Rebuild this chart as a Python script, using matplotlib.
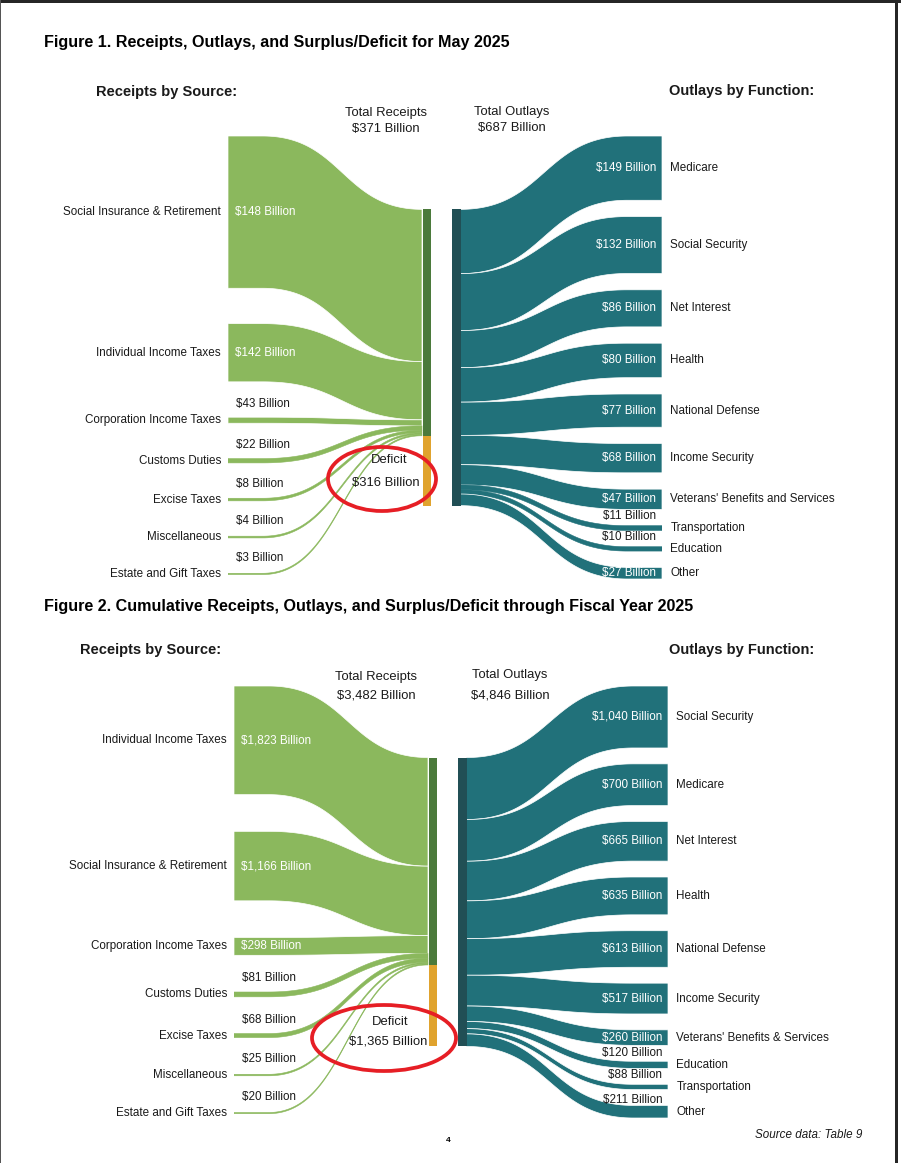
import numpy as np
import matplotlib.pyplot as plt
from matplotlib.patches import Ellipse, Rectangle
from matplotlib.transforms import blended_transform_factory

plt.rcParams['font.family'] = ['Liberation Sans', 'DejaVu Sans']

# ---- Figure 1 data: May 2025 ($ billions)
may_sources = ['Social Insurance & Retirement', 'Individual Income Taxes',
               'Corporation Income Taxes', 'Customs Duties', 'Excise Taxes',
               'Miscellaneous', 'Estate and Gift Taxes']
may_receipts = [148, 142, 43, 22, 8, 4, 3]
# the source graphic draws these bands off the label scale; thickness
may_receipt_band = [353, 135, 14, 10, 6, 4, 3]
may_functions = ['Medicare', 'Social Security', 'Net Interest', 'Health',
                 'National Defense', 'Income Security',
                 "Veterans' Benefits and Services", 'Transportation',
                 'Education', 'Other']
may_outlays = [149, 132, 86, 80, 77, 68, 47, 11, 10, 27]
may_total_receipts = 371
may_total_outlays = 687
may_deficit = 316

# ---- Figure 2 data: fiscal year 2025 to date ($ billions)
fy_sources = ['Individual Income Taxes', 'Social Insurance & Retirement',
              'Corporation Income Taxes', 'Customs Duties', 'Excise Taxes',
              'Miscellaneous', 'Estate and Gift Taxes']
fy_receipts = [1823, 1166, 298, 81, 68, 25, 20]
fy_functions = ['Social Security', 'Medicare', 'Net Interest', 'Health',
                'National Defense', 'Income Security',
                "Veterans' Benefits & Services", 'Education',
                'Transportation', 'Other']
fy_outlays = [1040, 700, 665, 635, 613, 517, 260, 120, 88, 211]
fy_total_receipts = 3482
fy_total_outlays = 4846
fy_deficit = 1365

#colours
green = '#8bb85d'
dark_green = '#4b7a3b'
orange = '#e0a32e'
teal = '#21717a'
dark_teal = '#214f55'
ink = '#1a1a1a'

W, H = 901, 1163
LBL = 8.4

# x layout of the columns inside each sankey axes (axes fraction)
GX0, GX1 = 0.449, 0.467
TX0, TX1 = 0.517, 0.536
NW = 0.08   # width of the end nodes, drawn in the flow colour


def money(v):
    return f"${v:,} Billion"


def flow(ax, x0, x1, a0, b0, a1, b1, color, px, flat_left=0.0, flat_right=0.0):
    # d3 style horizontal link: cubic bezier with control points at mid x
    u = np.linspace(0, 1, 150)
    xa, xb = x0 + flat_left, x1 - flat_right
    xm = (xa + xb) / 2
    xs = xa*(1-u)**3 + 3*xm*(1-u)**2*u + 3*xm*(1-u)*u**2 + xb*u**3
    s = 3*u**2 - 2*u**3
    top = a0 + (a1 - a0)*s
    bot = b0 + (b1 - b0)*s
    xs = np.r_[x0, xs, x1]
    top = np.r_[a0, top, a1]
    bot = np.r_[b0, bot, b1]
    if px > 5:
        ax.fill(np.r_[xs, xs[::-1]], np.r_[top, bot[::-1]], fc=color,
                ec='white', lw=0.5, zorder=2)
    else:
        ax.fill(np.r_[xs, xs[::-1]], np.r_[top, bot[::-1]], fc=color,
                ec=color, lw=0.4, zorder=2)


def sankey(ax, px_h, sources, bands, rec_vals, functions, outlays,
           gap, in_left, in_right, left_fill=0.99):
    total = sum(outlays)
    span = total * (1 + gap*(len(outlays) - 1))
    k = px_h / span  # pixels per $B
    ax.set_xlim(0, 1)
    ax.set_ylim(span, 0)
    ax.axis('off')
    tr = blended_transform_factory(ax.transAxes, ax.transData)

    bar_top = (span - total) / 2
    rec = sum(bands)
    ax.bar((GX0+GX1)/2, rec, GX1-GX0, bottom=bar_top, color=dark_green, zorder=3)
    ax.bar((GX0+GX1)/2, total-rec, GX1-GX0, bottom=bar_top+rec, color=orange, zorder=3)
    ax.bar((TX0+TX1)/2, total, TX1-TX0, bottom=bar_top, color=dark_teal, zorder=3)

    # receipts side
    lgap = (span*left_fill - rec) / (len(bands) - 1)
    y, cy = 0, bar_top
    for name, b, v in zip(sources, bands, rec_vals):
        flow(ax, 0, GX0 - 0.002, y, y+b, cy, cy+b, green, b*k, flat_left=NW)
        c = y + b/2
        ax.annotate(name, (0, c), xycoords=tr, xytext=(-5, 0),
                    textcoords='offset points', ha='right', va='center',
                    fontsize=LBL, color=ink)
        if b*k >= in_left:
            ax.annotate(money(v), (0, c), xycoords=tr, xytext=(5, 0),
                        textcoords='offset points', ha='left', va='center',
                        fontsize=LBL, color='white', zorder=5)
        else:
            ax.annotate(money(v), (0, c), xycoords=tr, xytext=(6, 11.5),
                        textcoords='offset points', ha='left', va='center',
                        fontsize=LBL, color=ink, zorder=5)
        y += b + lgap
        cy += b

    # outlays side
    rgap = gap * total
    y, cy = 0, bar_top
    for name, v in zip(functions, outlays):
        flow(ax, TX1, 1, cy, cy+v, y, y+v, teal, v*k, flat_right=NW)
        c = y + v/2
        ax.annotate(name, (1, c), xycoords=tr, xytext=(6, 0),
                    textcoords='offset points', ha='left', va='center',
                    fontsize=LBL, color=ink)
        if v*k >= in_right:
            ax.annotate(money(v), (1, c), xycoords=tr, xytext=(-4, 0),
                        textcoords='offset points', ha='right', va='center',
                        fontsize=LBL, color='white', zorder=5)
        else:
            ax.annotate(money(v), (1, c), xycoords=tr, xytext=(-4, 8.5),
                        textcoords='offset points', ha='right', va='center',
                        fontsize=LBL, color=ink, zorder=5)
        y += v + rgap
        cy += v


fig = plt.figure(figsize=(W/100, H/100), dpi=100)
fig.patch.set_facecolor('white')

ax1 = fig.add_axes([228/W, 1-579/H, 434/W, 443/H])
sankey(ax1, 443, may_sources, may_receipt_band, may_receipts,
       may_functions, may_outlays, 0.055, 10, 10)

ax2 = fig.add_axes([234/W, 1-1118/H, 434/W, 432/H])
sankey(ax2, 432, fy_sources, fy_receipts, fy_receipts,
       fy_functions, fy_outlays, 0.055, 10, 13)

# page overlay in pixel units for titles, notes and the hand drawn circles
ov = fig.add_axes([0, 0, 1, 1], zorder=10)
ov.set_xlim(0, W)
ov.set_ylim(H, 0)
ov.axis('off')
ov.patch.set_alpha(0)

ov.add_patch(Rectangle((0, 0), W, 3, color='#262626', lw=0))
ov.add_patch(Rectangle((0, 0), 1.2, H, color='#555555', lw=0))
ov.add_patch(Rectangle((895, 0), 3, H, color='#262626', lw=0))

for ty, txt in [(43, 'Figure 1. Receipts, Outlays, and Surplus/Deficit for May 2025'),
                (607, 'Figure 2. Cumulative Receipts, Outlays, and Surplus/Deficit through Fiscal Year 2025')]:
    ov.text(44, ty, txt, fontsize=11.6, fontweight='bold', ha='left', va='center', color='black')

ov.text(96, 92, 'Receipts by Source:', fontsize=10.5, fontweight='bold', va='center', color=ink)
ov.text(669, 91, 'Outlays by Function:', fontsize=10.5, fontweight='bold', va='center', color=ink)
ov.text(80, 650, 'Receipts by Source:', fontsize=10.5, fontweight='bold', va='center', color=ink)
ov.text(669, 650, 'Outlays by Function:', fontsize=10.5, fontweight='bold', va='center', color=ink)

ov.text(386, 113, 'Total Receipts', fontsize=9.4, ha='center', va='center', color=ink)
ov.text(386, 129, money(may_total_receipts), fontsize=9.4, ha='center', va='center', color=ink)
ov.text(512, 112, 'Total Outlays', fontsize=9.4, ha='center', va='center', color=ink)
ov.text(512, 128, money(may_total_outlays), fontsize=9.4, ha='center', va='center', color=ink)
ov.text(376, 677, 'Total Receipts', fontsize=9.4, ha='center', va='center', color=ink)
ov.text(376, 696, money(fy_total_receipts), fontsize=9.4, ha='center', va='center', color=ink)
ov.text(510, 675, 'Total Outlays', fontsize=9.4, ha='center', va='center', color=ink)
ov.text(510, 695, money(fy_total_outlays), fontsize=9.4, ha='center', va='center', color=ink)

ov.text(389, 460, 'Deficit', fontsize=9.4, ha='center', va='center', color=ink)
ov.text(386, 483, money(may_deficit), fontsize=9.4, ha='center', va='center', color=ink)
ov.text(390, 1022, 'Deficit', fontsize=9.4, ha='center', va='center', color=ink)
ov.text(388, 1042, money(fy_deficit), fontsize=9.4, ha='center', va='center', color=ink)

ov.add_patch(Ellipse((382, 479), 108, 64, fill=False, ec='#e61e25', lw=2.7))
ov.add_patch(Ellipse((384, 1038), 144, 66, fill=False, ec='#e61e25', lw=2.7))

ov.text(448, 1140, '4', fontsize=6, fontweight='bold', ha='center', va='center', color='black')
ov.text(862, 1135, 'Source data: Table 9', fontsize=8.4, style='italic', ha='right', va='center', color=ink)

fig.savefig('out.png', dpi=100, facecolor='white')
